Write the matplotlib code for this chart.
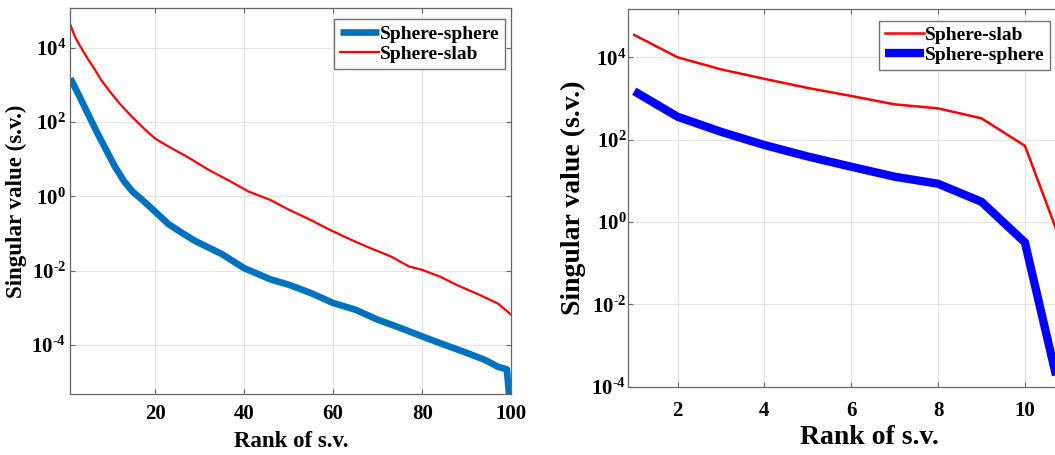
import matplotlib
matplotlib.use("Agg")
import matplotlib.pyplot as plt
import numpy as np

# ---------------- data ----------------
left_slab_rank = [1, 2, 3, 4, 5, 6, 8, 10, 12, 14, 16, 18, 20, 23, 27, 32, 37, 41,
                  46, 50, 55, 59, 64, 68, 73, 77, 80, 84, 88, 93, 97, 100]
left_slab_sv = [4.1e4, 2.0e4, 1.2e4, 7.6e3, 4.8e3, 3.2e3, 1.3e3, 630, 320, 175,
                100, 59, 36, 22, 12, 5.2, 2.5, 1.35, 0.79, 0.44, 0.23, 0.13,
                0.068, 0.042, 0.024, 0.013, 0.0105, 0.0069, 0.0040, 0.0022,
                0.0013, 6.5e-4]

left_sphere_rank = [1, 3, 5, 7, 9, 11, 13, 15, 17, 20, 23, 26, 29, 35, 40, 46, 50,
                    55, 60, 65, 70, 75, 80, 84, 89, 94, 97, 99, 100]
left_sphere_sv = [1.5e3, 500, 160, 52, 18, 6.3, 2.6, 1.32, 0.83, 0.39, 0.18,
                  0.105, 0.063, 0.028, 0.0117, 0.0058, 0.0042, 0.0025, 0.00135,
                  8.9e-4, 4.8e-4, 2.9e-4, 1.7e-4, 1.12e-4, 6.8e-5, 4.0e-5,
                  2.6e-5, 2.2e-5, 1e-6]

# Right panel: first singular values
right_rank = [1, 2, 3, 4, 5, 6, 7, 8, 9, 10, 11]
right_slab_sv = [3.5e4, 1.0e4, 5.1e3, 3.0e3, 1.8e3, 1.15e3, 720, 575, 330, 71, 0.11]
right_sphere_sv = [1.5e3, 360, 155, 74, 39, 22, 12.6, 8.5, 3.1, 0.32, 1.0e-5]

left_xticks = [20, 40, 60, 80, 100]
right_xticks = [2, 4, 6, 8, 10]
ytick_exps = [-4, -2, 0, 2, 4]

label_sphere = "Sphere-sphere"
label_slab = "Sphere-slab"
xlabel_text = "Rank of s.v."
ylabel_text = "Singular value (s.v.)"

# ---------------- style ----------------
plt.rcParams["font.family"] = ["Liberation Serif", "DejaVu Serif"]
plt.rcParams["font.weight"] = "bold"
plt.rcParams["mathtext.fontset"] = "custom"
plt.rcParams["mathtext.rm"] = "Liberation Serif:bold"
plt.rcParams["mathtext.bf"] = "Liberation Serif:bold"
plt.rcParams["mathtext.it"] = "Liberation Serif:bold"

W, H = 1055, 455
fig = plt.figure(figsize=(W / 100, H / 100), dpi=100)

def px_axes(x0, y0, x1, y1):
    # x0,x1 left/right pixel, y0 top pixel, y1 bottom pixel
    return [x0 / W, 1 - y1 / H, (x1 - x0) / W, (y1 - y0) / H]

spine_col = "0.4"
grid_col = "#e3e3e3"
matlab_blue = "#0072BD"

def exp_label(e):
    if e < 0:
        return r"$10^{\text{-}%d}$" % (-e)
    return r"$10^{%d}$" % e

def style_axes(ax, xticks, tick_fs, xpad, ypad):
    ax.set_yscale("log")
    ax.minorticks_off()
    ax.set_xticks(xticks)
    ax.set_xticklabels([str(t) for t in xticks])
    ax.set_yticks([10.0 ** e for e in ytick_exps])
    ax.set_yticklabels([exp_label(e) for e in ytick_exps])
    ax.tick_params(axis="both", which="both", direction="in", length=3.5,
                   width=0.8, color=spine_col, top=True, right=True,
                   labelsize=tick_fs)
    ax.tick_params(axis="x", pad=xpad)
    ax.tick_params(axis="y", pad=ypad)
    for lab in ax.get_xticklabels() + ax.get_yticklabels():
        lab.set_fontweight("bold")
    for s in ax.spines.values():
        s.set_color(spine_col)
        s.set_linewidth(0.9)
    ax.grid(True, color=grid_col, linewidth=0.8)
    ax.set_axisbelow(True)

# ---------------- left panel ----------------
ax1 = fig.add_axes(px_axes(70.4, 8, 511.3, 394.3))
l_sph, = ax1.plot(left_sphere_rank, left_sphere_sv, color=matlab_blue, lw=4.8,
                  solid_capstyle="butt", solid_joinstyle="round", label=label_sphere)
l_slab, = ax1.plot(left_slab_rank, left_slab_sv, color="#FF0000", lw=1.6,
                   label=label_slab)
ax1.set_xlim(1, 100)
ax1.set_ylim(10 ** -5.327, 10 ** 5.068)
style_axes(ax1, left_xticks, 15, 7, 3)
ax1.set_xlabel(xlabel_text, fontsize=16.5, fontweight="bold", labelpad=5)
ax1.set_ylabel(ylabel_text, fontsize=16.5, fontweight="bold", labelpad=3)
leg1 = ax1.legend(handles=[l_sph, l_slab], loc="upper right",
                  bbox_to_anchor=(505 / W, 1 - 19.3 / H),
                  bbox_transform=fig.transFigure, borderaxespad=0,
                  handlelength=2.0, handletextpad=0.05,
                  borderpad=0.3, labelspacing=0.12, fancybox=False,
                  framealpha=1, edgecolor="0.45", prop={"weight": "bold", "size": 14})
leg1.get_frame().set_linewidth(1.0)

# ---------------- right panel ----------------
ax2 = fig.add_axes(px_axes(627.7, 9.3, 1111.7, 386.7))
r_slab, = ax2.plot(right_rank, right_slab_sv, color="#FF0000", lw=1.8,
                   label=label_slab)
r_sph, = ax2.plot(right_rank, right_sphere_sv, color="#0000FF", lw=6.0,
                  solid_capstyle="butt", solid_joinstyle="miter", label=label_sphere)
ax2.set_xlim(0.85, 12)
ax2.set_ylim(1e-4, 10 ** 5.166)
style_axes(ax2, right_xticks, 15, 10, 1)
ax2.set_xlabel(xlabel_text, fontsize=20, fontweight="bold", labelpad=3)
ax2.set_ylabel(ylabel_text, fontsize=20, fontweight="bold", labelpad=4)
leg2 = ax2.legend(handles=[r_slab, r_sph], loc="upper right",
                  bbox_to_anchor=(1050 / W, 1 - 20.7 / H),
                  bbox_transform=fig.transFigure, borderaxespad=0,
                  handlelength=2.0, handletextpad=0.05,
                  borderpad=0.3, labelspacing=0.12, fancybox=False,
                  framealpha=1, edgecolor="0.45", prop={"weight": "bold", "size": 14})
leg2.get_frame().set_linewidth(1.0)

fig.savefig("out.png", dpi=100)
